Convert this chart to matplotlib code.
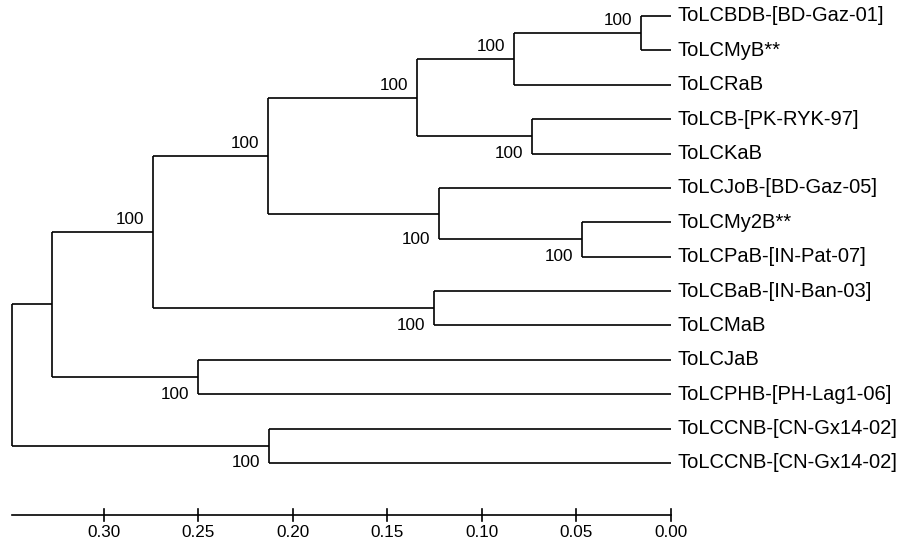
import matplotlib.pyplot as plt

plt.rcParams['font.family'] = ['Liberation Sans', 'DejaVu Sans']

# leaves, top to bottom
leaf_names = ['ToLCBDB-[BD-Gaz-01]', 'ToLCMyB**', 'ToLCRaB', 'ToLCB-[PK-RYK-97]',
              'ToLCKaB', 'ToLCJoB-[BD-Gaz-05]', 'ToLCMy2B**', 'ToLCPaB-[IN-Pat-07]',
              'ToLCBaB-[IN-Ban-03]', 'ToLCMaB', 'ToLCJaB', 'ToLCPHB-[PH-Lag1-06]',
              'ToLCCNB-[CN-Gx14-02]', 'ToLCCNB-[CN-Gx14-02]']

# internal nodes: children (int = leaf index, str = node)
node_children = {
    'n1': (0, 1), 'n2': ('n1', 2), 'n3': (3, 4), 'n4': ('n2', 'n3'),
    'n5': (6, 7), 'n6': (5, 'n5'), 'n7': ('n4', 'n6'), 'n8': (8, 9),
    'n9': ('n7', 'n8'), 'n10': (10, 11), 'n11': ('n9', 'n10'),
    'n12': (12, 13), 'root': ('n11', 'n12'),
}
# node depth (distance to tips)
node_height = {
    'n1': 0.0159, 'n2': 0.0831, 'n3': 0.0735, 'n4': 0.1344,
    'n5': 0.0471, 'n6': 0.1228, 'n7': 0.2132, 'n8': 0.1254,
    'n9': 0.2741, 'n10': 0.2503, 'n11': 0.3275, 'n12': 0.2127,
    'root': 0.3487,
}
bootstrap = {'n1': 100, 'n2': 100, 'n3': 100, 'n4': 100, 'n5': 100, 'n6': 100,
             'n7': 100, 'n8': 100, 'n9': 100, 'n10': 100, 'n12': 100}
label_above = {'n1', 'n2', 'n4', 'n7', 'n9'}

scale_ticks = [0.30, 0.25, 0.20, 0.15, 0.10, 0.05, 0.00]

fig = plt.figure(figsize=(9.1, 5.42), dpi=100)
ax = fig.add_axes([0, 0, 1, 1])
ax.set_xlim(0.3550, -0.1265)
ax.set_ylim(15.30, -0.465)
ax.axis('off')

lw = 1.2
c = 'black'


def pos(n):
    if isinstance(n, int):
        return 0.0, float(n)
    a, b = node_children[n]
    ya = pos(a)[1]
    yb = pos(b)[1]
    return node_height[n], (ya + yb) / 2


def draw(n):
    x, y = pos(n)
    if isinstance(n, int):
        ax.annotate(leaf_names[n], (x, y), xytext=(5, 0), textcoords='offset points',
                    va='center', ha='left', fontsize=14.5)
        return
    a, b = node_children[n]
    ya = pos(a)[1]
    yb = pos(b)[1]
    ax.plot([x, x], [ya, yb], color=c, lw=lw, solid_capstyle='butt')
    for ch in (a, b):
        cx, cy = pos(ch)
        ax.plot([x, cx], [cy, cy], color=c, lw=lw, solid_capstyle='butt')
        draw(ch)
    if n in bootstrap:
        if n in label_above:
            ax.annotate(str(bootstrap[n]), (x, y), xytext=(-6.5, 9), textcoords='offset points',
                        ha='right', va='center', fontsize=12.3)
        else:
            ax.annotate(str(bootstrap[n]), (x, yb), xytext=(-6.5, 0), textcoords='offset points',
                        ha='right', va='center', fontsize=12.3)


draw('root')

# scale axis
axis_y = 14.51
ax.plot([node_height['root'], 0.0], [axis_y, axis_y], color=c, lw=lw)
for t in scale_ticks:
    ax.plot([t, t], [axis_y - 0.175, axis_y + 0.175], color=c, lw=lw)
    ax.text(t, axis_y + 0.5, f'{t:.2f}', ha='center', va='center', fontsize=12.3)

fig.savefig('out.png', dpi=100)
